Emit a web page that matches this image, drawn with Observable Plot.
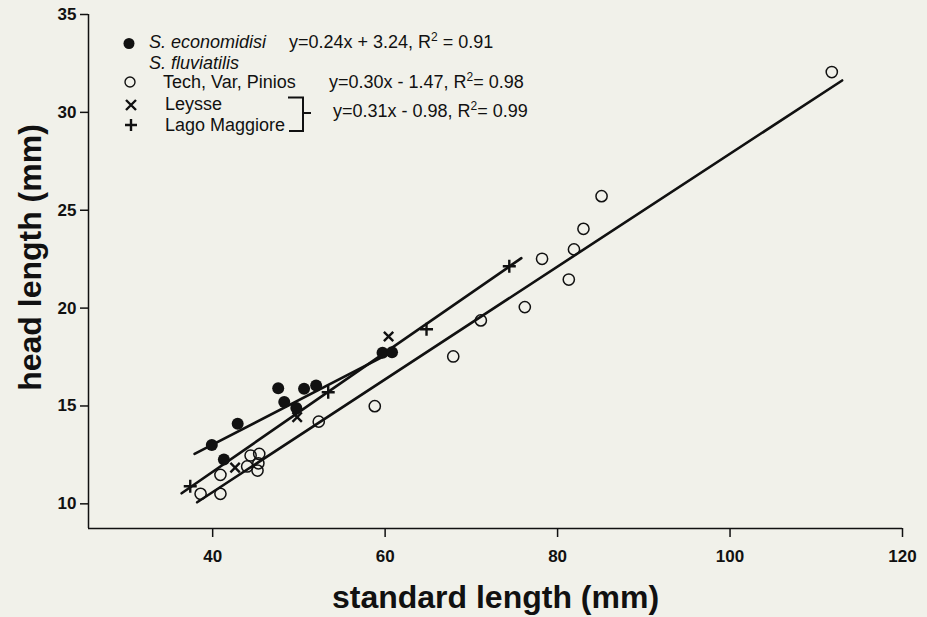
<!DOCTYPE html>
<html>
<head>
<meta charset="utf-8">
<script src="https://cdn.jsdelivr.net/npm/d3@7"></script>
<script src="https://cdn.jsdelivr.net/npm/@observablehq/plot@0.6"></script>
<style>
  html, body { margin: 0; padding: 0; background: #f1f1ea; }
  #chart { width: 927px; height: 617px; }
</style>
</head>
<body>
<div id="chart"></div>
<script>
// ---- data ----
const economidisi = [
  [39.9, 13.01], [41.3, 12.26], [42.9, 14.09], [47.6, 15.9], [48.3, 15.2],
  [49.7, 14.9], [50.6, 15.88], [52.0, 16.04], [59.7, 17.72], [60.8, 17.75]
];
const techVarPinios = [
  [38.6, 10.51], [40.9, 10.51], [40.9, 11.48], [44.0, 11.91], [44.4, 12.47],
  [45.4, 12.55], [45.3, 12.07], [45.2, 11.70], [52.3, 14.2], [58.8, 14.99],
  [67.9, 17.53], [71.1, 19.37], [76.2, 20.05], [78.2, 22.52], [81.3, 21.46],
  [81.9, 23.0], [83.0, 24.05], [85.1, 25.72], [111.8, 32.06]
];
const leysse = [[42.6, 11.85], [49.8, 14.43], [60.4, 18.55]];
const lagoMaggiore = [[37.4, 10.9], [53.4, 15.7], [64.8, 18.92], [74.4, 22.14]];

// fitted lines (end points as drawn)
const econLine = [[37.9, 12.55], [61.0, 17.8]];
const tvpLine = [[38.2, 10.08], [113.0, 31.63]];
const leyLagoLine = [[36.4, 10.54], [75.8, 22.55]];

const xTicks = [40, 60, 80, 100, 120];
const yTicks = [10, 15, 20, 25, 30, 35];
const xDomain = [25.6, 120];
const yDomain = [8.74, 35];

const xLabel = "standard length (mm)";
const yLabel = "head length (mm)";

const legendRows = {
  econ: "S. economidisi",
  econEq: ["y=0.24x + 3.24, R", "2", " = 0.91"],
  fluv: "S. fluviatilis",
  tvp: "Tech, Var, Pinios",
  tvpEq: ["y=0.30x - 1.47, R", "2", "= 0.98"],
  ley: "Leysse",
  lago: "Lago Maggiore",
  leyLagoEq: ["y=0.31x - 0.98, R", "2", "= 0.99"]
};

// ---- custom stroked symbols ----
const plusSym = { draw(ctx, size) { const r = Math.sqrt(size / Math.PI); ctx.moveTo(-r, 0); ctx.lineTo(r, 0); ctx.moveTo(0, -r); ctx.lineTo(0, r); } };
const timesSym = { draw(ctx, size) { const r = Math.sqrt(size / Math.PI) * 0.78; ctx.moveTo(-r, -r); ctx.lineTo(r, r); ctx.moveTo(r, -r); ctx.lineTo(-r, r); } };

const font = "'Liberation Sans', Arial, Helvetica, sans-serif";

const chart = Plot.plot({
  width: 927,
  height: 617,
  marginLeft: 88,
  marginRight: 25,
  marginTop: 14,
  marginBottom: 89,
  style: { background: "#f1f1ea", fontFamily: font, color: "#111" },
  x: { domain: xDomain },
  y: { domain: yDomain },
  marks: [
    Plot.axisX({ ticks: xTicks, tickSize: 9, tickPadding: 12, fontSize: 17, fontWeight: "bold", label: null, strokeWidth: 1.5 }),
    Plot.axisY({ ticks: yTicks, tickSize: 8, tickPadding: 4, fontSize: 17, fontWeight: "bold", label: null, strokeWidth: 1.5 }),
    Plot.ruleX([xDomain[0]], { stroke: "#111", strokeWidth: 1.5 }),
    Plot.ruleY([yDomain[0]], { stroke: "#111", strokeWidth: 1.5 }),
    Plot.line(econLine, { x: d => d[0], y: d => d[1], stroke: "#111", strokeWidth: 2.6 }),
    Plot.line(tvpLine, { x: d => d[0], y: d => d[1], stroke: "#111", strokeWidth: 2.6 }),
    Plot.line(leyLagoLine, { x: d => d[0], y: d => d[1], stroke: "#111", strokeWidth: 2.6 }),
    Plot.dot(techVarPinios, { x: d => d[0], y: d => d[1], r: 5.6, stroke: "#111", strokeWidth: 1.5, fill: "none" }),
    Plot.dot(economidisi, { x: d => d[0], y: d => d[1], r: 6, fill: "#111", stroke: "none" }),
    Plot.dot(leysse, { x: d => d[0], y: d => d[1], r: 6, symbol: timesSym, stroke: "#111", strokeWidth: 2.4, fill: "none" }),
    Plot.dot(lagoMaggiore, { x: d => d[0], y: d => d[1], r: 6.5, symbol: plusSym, stroke: "#111", strokeWidth: 2.4, fill: "none" }),
    Plot.text([xLabel], { text: d => d, frameAnchor: "bottom", textAnchor: "middle", lineAnchor: "middle", dy: 69, fontSize: 32, fontWeight: "bold", fill: "#111" }),
    Plot.text([yLabel], { text: d => d, frameAnchor: "left", textAnchor: "middle", lineAnchor: "middle", dx: -58, dy: -14, rotate: -90, fontSize: 32, fontWeight: "bold", fill: "#111" })
  ]
});

document.getElementById("chart").appendChild(chart);

// ---- legend drawn into the same SVG ----
const svg = d3.select(chart);
const g = svg.append("g")
  .attr("font-family", font)
  .attr("font-size", 18)
  .attr("fill", "#111")
  .attr("text-anchor", "start");

function eqText(x, y, parts) {
  const t = g.append("text").attr("x", x).attr("y", y);
  t.append("tspan").text(parts[0]);
  t.append("tspan").attr("font-size", 12).attr("dy", -7).text(parts[1]);
  t.append("tspan").attr("dy", 7).text(parts[2]);
}

g.append("circle").attr("cx", 129).attr("cy", 43.5).attr("r", 5.5).attr("fill", "#111");
g.append("text").attr("x", 149).attr("y", 48).attr("font-style", "italic").text(legendRows.econ);
eqText(289, 48, legendRows.econEq);
g.append("text").attr("x", 149).attr("y", 68.5).attr("font-style", "italic").text(legendRows.fluv);

g.append("circle").attr("cx", 130).attr("cy", 82).attr("r", 5).attr("fill", "none").attr("stroke", "#111").attr("stroke-width", 1.4);
g.append("text").attr("x", 163).attr("y", 87.5).text(legendRows.tvp);
eqText(329, 87.5, legendRows.tvpEq);

g.append("path").attr("d", "M126,100L136,110M136,100L126,110").attr("stroke", "#111").attr("stroke-width", 2.4);
g.append("text").attr("x", 165).attr("y", 110).text(legendRows.ley);

g.append("path").attr("d", "M125,125L137,125M131,119L131,131").attr("stroke", "#111").attr("stroke-width", 2.4);
g.append("text").attr("x", 165).attr("y", 130.5).text(legendRows.lago);

g.append("path").attr("d", "M288,97.5L303,97.5L303,131L289,131M303,113L311,113").attr("fill", "none").attr("stroke", "#111").attr("stroke-width", 2);
eqText(333, 117, legendRows.leyLagoEq);
</script>
</body>
</html>
